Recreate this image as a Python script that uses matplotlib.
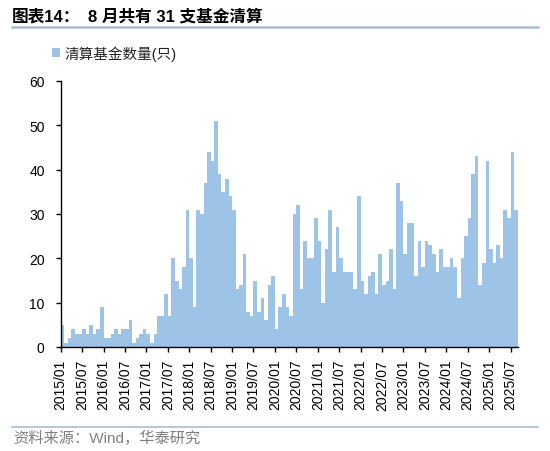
import matplotlib
matplotlib.use("Agg")
import matplotlib.pyplot as plt
from matplotlib.lines import Line2D
from matplotlib.patches import Rectangle

plt.rcParams['font.family'] = ['Liberation Sans', 'Noto Sans CJK SC', 'DejaVu Sans']

# ---- data ----
start_year, start_month = 2015, 1
counts_2015 = [5, 1, 2, 4, 3, 3, 4, 3, 5, 3, 4, 9]
counts_2016 = [2, 2, 3, 4, 3, 4, 4, 6, 1, 2, 3, 4]
counts_2017 = [3, 1, 3, 7, 7, 12, 7, 20, 15, 13, 18, 31]
counts_2018 = [20, 9, 31, 30, 37, 44, 42, 51, 39, 35, 38, 34]
counts_2019 = [31, 13, 14, 21, 8, 7, 15, 8, 11, 6, 14, 16]
counts_2020 = [4, 9, 12, 9, 7, 30, 32, 13, 24, 20, 20, 29]
counts_2021 = [24, 10, 22, 31, 17, 27, 20, 17, 17, 17, 13, 34]
counts_2022 = [15, 12, 16, 17, 12, 21, 14, 15, 22, 13, 37, 33]
counts_2023 = [21, 28, 28, 16, 24, 18, 24, 23, 21, 17, 22, 18]
counts_2024 = [18, 20, 18, 11, 20, 25, 29, 39, 43, 14, 19, 42]
counts_2025 = [22, 19, 23, 20, 31, 29, 44, 31]

values = (counts_2015 + counts_2016 + counts_2017 + counts_2018 + counts_2019 +
          counts_2020 + counts_2021 + counts_2022 + counts_2023 + counts_2024 +
          counts_2025)
months = []
y, m = start_year, start_month
for _ in values:
    months.append(f"{y}/{m:02d}")
    m += 1
    if m > 12:
        m = 1
        y += 1

title_a = "图表14："
title_b = "8 月共有 31 支基金清算"
legend_label = "清算基金数量(只)"
source_text = "资料来源：Wind，华泰研究"
y_ticks = [0, 10, 20, 30, 40, 50, 60]

bar_color = "#9DC3E6"
rule_color = "#A9BCCF"

W, H = 550, 452
fig = plt.figure(figsize=(W / 100, H / 100), dpi=100)

def fx(px):
    return px / W

def fy(py):
    return 1 - py / H

ax = fig.add_axes([fx(60.7), fy(348), fx(517.7 - 60.7), (348 - 82) / H])
xs = list(range(len(values)))
ax.bar(xs, values, width=1.0, color=bar_color, edgecolor="none", linewidth=0)
ax.set_xlim(-0.5, len(values) - 0.5)
ax.set_ylim(0, 60)
ax.set_yticks(y_ticks)
ax.set_yticklabels([str(v) for v in y_ticks], fontsize=10)

tick_idx = [i for i in xs if i % 6 == 0]
ax.set_xticks([i - 0.5 for i in tick_idx])
ax.set_xticklabels([months[i] for i in tick_idx], rotation=90, fontsize=10)

for s in ["top", "right"]:
    ax.spines[s].set_visible(False)
for s in ["left", "bottom"]:
    ax.spines[s].set_color("black")
    ax.spines[s].set_linewidth(1.0)
ax.tick_params(axis="y", direction="out", length=3.5, width=1, pad=8, colors="black")
ax.tick_params(axis="x", direction="out", length=3.5, width=1, pad=5, colors="black")

# title
fig.text(fx(12), fy(17), title_a, fontsize=12, fontweight="bold", va="center", ha="left")
fig.text(fx(88), fy(17), title_b, fontsize=12, fontweight="bold", va="center", ha="left")
fig.add_artist(Line2D([fx(12), fx(538)], [fy(28), fy(28)], color=rule_color, linewidth=1.8))

# legend
fig.add_artist(Rectangle((fx(51.7), fy(58.3)), fx(8.3), 9 / H, color=bar_color, linewidth=0))
fig.text(fx(64), fy(54), legend_label, fontsize=10.5, va="center", ha="left", color="#222222")

# source
fig.add_artist(Line2D([fx(12), fx(538)], [fy(428), fy(428)], color=rule_color, linewidth=1.2))
fig.text(fx(13), fy(438), source_text, fontsize=11, va="center", ha="left", color="#7F7F7F")

fig.savefig("out.png", dpi=100)
